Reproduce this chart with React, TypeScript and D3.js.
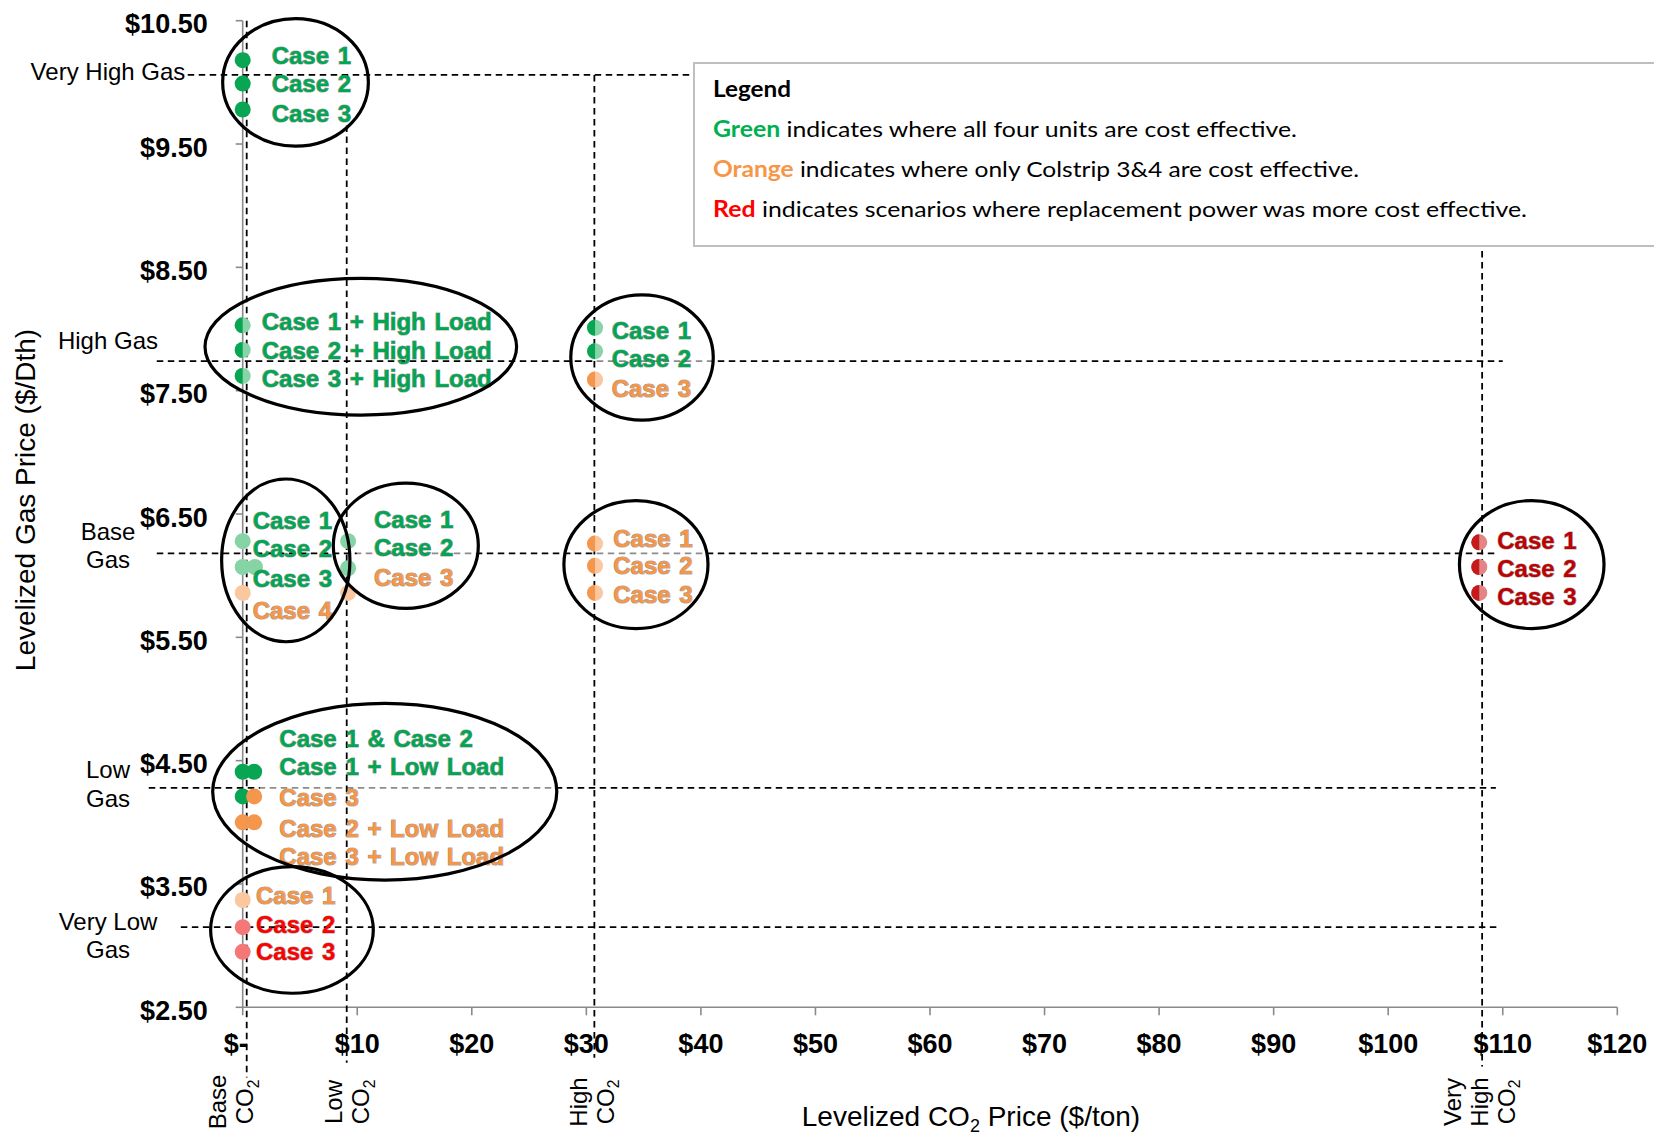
import React from 'react';
import * as d3 from 'd3';

const WIDTH = 1654;
const HEIGHT = 1135;

// ---------- data ----------
const yTicks = [2.5, 3.5, 4.5, 5.5, 6.5, 7.5, 8.5, 9.5, 10.5];
const xTicks = [0, 10, 20, 30, 40, 50, 60, 70, 80, 90, 100, 110, 120];

// gas price scenarios (horizontal dashed lines), values in $/Dth, extents in $/ton
const gasScenarios = [
  { label: ['Very High Gas'], gas: 10.06, from: -4.8, to: 108.2, labelGas: 10.02 },
  { label: ['High Gas'], gas: 7.74, from: -7.5, to: 110.0, labelGas: 7.835 },
  { label: ['Base', 'Gas'], gas: 6.18, from: -7.5, to: 109.5, labelGas: 6.29 },
  { label: ['Low', 'Gas'], gas: 4.28, from: -8.2, to: 109.4, labelGas: 4.357 },
  { label: ['Very Low', 'Gas'], gas: 3.15, from: -5.4, to: 109.6, labelGas: 3.127 },
];

// CO2 price scenarios (vertical dashed lines)
const co2Scenarios = [
  { label: ['Base', 'CO|2'], co2: 0.35, topGas: 10.5, bottomGas: 1.93, labelCo2: -0.24 },
  { label: ['Low', 'CO|2'], co2: 9.08, topGas: 9.65, bottomGas: 2.05, labelCo2: 9.89 },
  { label: ['High', 'CO|2'], co2: 30.7, topGas: 10.06, bottomGas: 2.09, labelCo2: 31.23 },
  { label: ['Very', 'High', 'CO|2'], co2: 108.2, topGas: 10.06, bottomGas: 2.02, labelCo2: 108.7 },
];

// scenario results: CO2 price ($/ton), gas price ($/Dth), tone, half = lighter right half
const points = [
  { co2: 0, gas: 10.18, tone: 'green', half: false },
  { co2: 0, gas: 9.99, tone: 'green', half: false },
  { co2: 0, gas: 9.78, tone: 'green', half: false },
  { co2: 0, gas: 8.03, tone: 'green', half: true },
  { co2: 0, gas: 7.83, tone: 'green', half: true },
  { co2: 0, gas: 7.62, tone: 'green', half: true },
  { co2: 30.76, gas: 8.01, tone: 'green', half: true },
  { co2: 30.76, gas: 7.82, tone: 'green', half: true },
  { co2: 30.76, gas: 7.59, tone: 'orange', half: true },
  { co2: 0, gas: 6.28, tone: 'lightGreen', half: false },
  { co2: 0, gas: 6.07, tone: 'lightGreen', half: false },
  { co2: 1.07, gas: 6.07, tone: 'lightGreen', half: false },
  { co2: 0, gas: 5.86, tone: 'paleOrange', half: false },
  { co2: 9.2, gas: 6.28, tone: 'lightGreen', half: false },
  { co2: 9.2, gas: 6.06, tone: 'lightGreen', half: false },
  { co2: 9.2, gas: 5.86, tone: 'paleOrange', half: false },
  { co2: 30.76, gas: 6.26, tone: 'orange', half: true },
  { co2: 30.76, gas: 6.08, tone: 'orange', half: true },
  { co2: 30.76, gas: 5.86, tone: 'orange', half: true },
  { co2: 0, gas: 4.41, tone: 'green', half: false },
  { co2: 1.0, gas: 4.41, tone: 'green', half: false },
  { co2: 0, gas: 4.21, tone: 'green', half: false },
  { co2: 1.0, gas: 4.21, tone: 'orange', half: false },
  { co2: 0, gas: 4.0, tone: 'orange', half: false },
  { co2: 1.0, gas: 4.0, tone: 'orange', half: false },
  { co2: 0, gas: 3.37, tone: 'paleOrange', half: false },
  { co2: 0, gas: 3.15, tone: 'pink', half: false },
  { co2: 0, gas: 2.95, tone: 'pink', half: false },
  { co2: 107.95, gas: 6.27, tone: 'darkRed', half: true },
  { co2: 107.95, gas: 6.07, tone: 'darkRed', half: true },
  { co2: 107.95, gas: 5.86, tone: 'darkRed', half: true },
];

// case labels (anchor = text start / baseline, in data units)
const caseLabels = [
  { co2: 2.53, gas: 10.15, text: 'Case 1', tone: 'green' },
  { co2: 2.53, gas: 9.92, text: 'Case 2', tone: 'green' },
  { co2: 2.53, gas: 9.68, text: 'Case 3', tone: 'green' },
  { co2: 1.66, gas: 7.99, text: 'Case 1 + High Load', tone: 'green' },
  { co2: 1.66, gas: 7.76, text: 'Case 2 + High Load', tone: 'green' },
  { co2: 1.66, gas: 7.53, text: 'Case 3 + High Load', tone: 'green' },
  { co2: 32.21, gas: 7.92, text: 'Case 1', tone: 'green' },
  { co2: 32.21, gas: 7.69, text: 'Case 2', tone: 'green' },
  { co2: 32.21, gas: 7.45, text: 'Case 3', tone: 'orange' },
  { co2: 0.87, gas: 6.38, text: 'Case 1', tone: 'green' },
  { co2: 0.87, gas: 6.15, text: 'Case 2', tone: 'green' },
  { co2: 0.87, gas: 5.91, text: 'Case 3', tone: 'green' },
  { co2: 0.87, gas: 5.65, text: 'Case 4', tone: 'orange' },
  { co2: 11.46, gas: 6.39, text: 'Case 1', tone: 'green' },
  { co2: 11.46, gas: 6.16, text: 'Case 2', tone: 'green' },
  { co2: 11.46, gas: 5.92, text: 'Case 3', tone: 'orange' },
  { co2: 32.35, gas: 6.23, text: 'Case 1', tone: 'orange' },
  { co2: 32.35, gas: 6.01, text: 'Case 2', tone: 'orange' },
  { co2: 32.35, gas: 5.78, text: 'Case 3', tone: 'orange' },
  { co2: 3.2, gas: 4.61, text: 'Case 1 & Case 2', tone: 'green' },
  { co2: 3.2, gas: 4.38, text: 'Case 1 + Low Load', tone: 'green' },
  { co2: 3.2, gas: 4.13, text: 'Case 3', tone: 'orange' },
  { co2: 3.2, gas: 3.88, text: 'Case 2 + Low Load', tone: 'orange' },
  { co2: 3.2, gas: 3.65, text: 'Case 3 + Low Load', tone: 'orange' },
  { co2: 1.16, gas: 3.34, text: 'Case 1', tone: 'orange' },
  { co2: 1.16, gas: 3.1, text: 'Case 2', tone: 'red' },
  { co2: 1.16, gas: 2.88, text: 'Case 3', tone: 'red' },
  { co2: 109.52, gas: 6.22, text: 'Case 1', tone: 'darkRed' },
  { co2: 109.52, gas: 5.99, text: 'Case 2', tone: 'darkRed' },
  { co2: 109.52, gas: 5.76, text: 'Case 3', tone: 'darkRed' },
];

// grouping ellipses (centre and radii in data units)
const ellipses = [
  { co2: 4.61, gas: 10.0, rCo2: 6.36, rGas: 0.517 },
  { co2: 10.31, gas: 7.856, rCo2: 13.6, rGas: 0.554 },
  { co2: 34.86, gas: 7.769, rCo2: 6.22, rGas: 0.507 },
  { co2: 34.33, gas: 6.09, rCo2: 6.29, rGas: 0.519 },
  { co2: 3.76, gas: 6.124, rCo2: 5.6, rGas: 0.66 },
  { co2: 14.24, gas: 6.243, rCo2: 6.33, rGas: 0.508 },
  { co2: 112.53, gas: 6.09, rCo2: 6.31, rGas: 0.519 },
  { co2: 12.4, gas: 4.248, rCo2: 15.02, rGas: 0.716 },
  { co2: 4.3, gas: 3.127, rCo2: 7.1, rGas: 0.513 },
];

// ellipses whose inside (right of a CO2 value) greys the gas line
const veils = [
  { ellipse: 2, from: 30.9 },
  { ellipse: 3, from: 30.9 },
  { ellipse: 5, from: 9.95 },
  { ellipse: 7, from: 1.5 },
];

const legendLines = [
  { key: 'Green', rest: ' indicates where all four units are cost effective.', tone: 'legendGreen' },
  { key: 'Orange', rest: ' indicates where only Colstrip 3&4 are cost effective.', tone: 'orange' },
  { key: 'Red', rest: ' indicates scenarios where replacement power was more cost effective.', tone: 'red' },
];

// ---------- styles ----------
const COLORS: Record<string, { dark: string; light: string; text: string }> = {
  green: { dark: '#08a552', light: '#86d4a8', text: '#00a651' },
  lightGreen: { dark: '#86d3a6', light: '#86d3a6', text: '#00a651' },
  orange: { dark: '#f4964c', light: '#fac7a0', text: '#f79646' },
  paleOrange: { dark: '#fac79e', light: '#fac79e', text: '#f79646' },
  pink: { dark: '#f47878', light: '#f47878', text: '#ff0000' },
  red: { dark: '#ff0000', light: '#ff0000', text: '#ff0000' },
  darkRed: { dark: '#c41a1a', light: '#e38585', text: '#c00000' },
  legendGreen: { dark: '#00b050', light: '#00b050', text: '#00b050' },
};

const FONT = '"Liberation Sans", Arial, sans-serif';
const LEGEND_FONT = 'Lato, "Open Sans", sans-serif';

const x = d3.scaleLinear().domain([0, 120]).range([242.7, 1617.3]);
const y = d3.scaleLinear().domain([2.5, 10.5]).range([1007.3, 20.7]);

const CO2 = ({ s }: { s: string }) => {
  const [a, b] = s.split('|');
  if (b === undefined) return <>{a}</>;
  return (
    <>
      {a}
      <tspan fontSize="0.65em" dy="0.35em">{b}</tspan>
    </>
  );
};

export default function App() {
  const axisColor = '#8a8a8a';
  const dash = '6.5 4.5';
  const r = 8;

  return (
    <svg
      width={WIDTH}
      height={HEIGHT}
      viewBox={`0 0 ${WIDTH} ${HEIGHT}`}
      style={{ position: 'absolute', left: 0, top: 0, background: '#fff' }}
      fontFamily={FONT}
    >
      <defs>
        {veils.map((v, i) => {
          const e = ellipses[v.ellipse];
          return (
            <clipPath id={`veil-${i}`} key={i}>
              <ellipse
                cx={x(e.co2)}
                cy={y(e.gas)}
                rx={x(e.rCo2) - x(0)}
                ry={y(2.5) - y(2.5 + e.rGas)}
              />
            </clipPath>
          );
        })}
      </defs>

      {/* axes */}
      <line x1={x(0)} x2={x(0)} y1={y(10.5)} y2={y(2.5)} stroke={axisColor} strokeWidth={1.6} />
      {yTicks.map((t) => (
        <g key={`yt${t}`}>
          <line x1={x(0) - 7} x2={x(0)} y1={y(t)} y2={y(t)} stroke={axisColor} strokeWidth={1.6} />
          <text
            x={x(0) - 35}
            y={y(t) + 12.5}
            textAnchor="end"
            fontSize={27}
            fontWeight="bold"
            fill="#000"
          >
            {`$${d3.format('.2f')(t)}`}
          </text>
        </g>
      ))}
      <line x1={x(0)} x2={x(120)} y1={y(2.5)} y2={y(2.5)} stroke={axisColor} strokeWidth={1.6} />
      {xTicks.map((t) => (
        <g key={`xt${t}`}>
          <line x1={x(t)} x2={x(t)} y1={y(2.5)} y2={y(2.5) + 8} stroke={axisColor} strokeWidth={1.6} />
          <text
            x={t === 0 ? x(t) + 5 : x(t)}
            y={y(2.5) + 46}
            textAnchor={t === 0 ? 'end' : 'middle'}
            fontSize={27}
            fontWeight="bold"
            fill="#000"
          >
            {t === 0 ? '$-' : `$${t}`}
          </text>
        </g>
      ))}

      {/* axis titles */}
      <text
        transform={`translate(35, 500) rotate(-90)`}
        textAnchor="middle"
        fontSize={28}
        fill="#000"
      >
        Levelized Gas Price ($/Dth)
      </text>
      <text x={971} y={1126} textAnchor="middle" fontSize={28} fill="#000">
        Levelized CO<tspan fontSize={18} dy={6}>2</tspan>
        <tspan dy={-6}> Price ($/ton)</tspan>
      </text>

      {/* horizontal gas-scenario lines */}
      {gasScenarios.map((g) => (
        <line
          key={`gl${g.gas}`}
          x1={x(g.from)}
          x2={x(g.to)}
          y1={y(g.gas)}
          y2={y(g.gas)}
          stroke="#000"
          strokeWidth={1.8}
          strokeDasharray={dash}
        />
      ))}

      {/* veils inside some ellipses */}
      {veils.map((v, i) => {
        const e = ellipses[v.ellipse];
        const right = x(e.co2 + e.rCo2);
        return (
          <rect
            key={`veil${i}`}
            clipPath={`url(#veil-${i})`}
            x={x(v.from)}
            y={y(e.gas + e.rGas)}
            width={right - x(v.from)}
            height={y(e.gas - e.rGas) - y(e.gas + e.rGas)}
            fill="#fff"
            opacity={0.55}
          />
        );
      })}

      {/* vertical CO2-scenario lines */}
      {co2Scenarios.map((c) => (
        <line
          key={`cl${c.co2}`}
          x1={x(c.co2)}
          x2={x(c.co2)}
          y1={y(c.topGas)}
          y2={y(c.bottomGas)}
          stroke="#000"
          strokeWidth={1.8}
          strokeDasharray={dash}
        />
      ))}

      {/* gas scenario labels */}
      {gasScenarios.map((g) => (
        <text key={`glab${g.gas}`} textAnchor="middle" fontSize={24} fill="#000">
          {g.label.map((l, i) => (
            <tspan key={i} x={x(-11.76)} y={y(g.labelGas) + i * 28.5}>
              {l}
            </tspan>
          ))}
        </text>
      ))}

      {/* CO2 scenario labels (rotated) */}
      {co2Scenarios.map((c) =>
        c.label.map((l, i) => {
          const bx = x(c.labelCo2) + (i - (c.label.length - 1) / 2) * 27;
          return (
            <text
              key={`clab${c.co2}-${i}`}
              transform={`translate(${bx}, 1102) rotate(-90)`}
              textAnchor="middle"
              fontSize={24}
              fill="#000"
            >
              <CO2 s={l} />
            </text>
          );
        })
      )}

      {/* points */}
      {points.map((p, i) => {
        const cx = x(p.co2);
        const cy = y(p.gas);
        const c = COLORS[p.tone];
        return (
          <g key={`pt${i}`}>
            <circle cx={cx} cy={cy} r={r} fill={p.half ? c.light : c.dark} />
            {p.half && (
              <path d={`M${cx},${cy - r} A${r},${r} 0 0 0 ${cx},${cy + r} Z`} fill={c.dark} />
            )}
          </g>
        );
      })}

      {/* case labels */}
      {caseLabels.map((l, i) => (
        <text
          key={`lab${i}`}
          x={x(l.co2)}
          y={y(l.gas)}
          fontSize={24}
          fontWeight="bold"
          wordSpacing={2}
          fill={COLORS[l.tone].text}
          stroke="rgba(0,0,0,0.4)"
          strokeWidth={1.2}
          style={{ paintOrder: 'stroke' }}
        >
          {l.text}
        </text>
      ))}

      {/* ellipses */}
      {ellipses.map((e, i) => (
        <ellipse
          key={`el${i}`}
          cx={x(e.co2)}
          cy={y(e.gas)}
          rx={x(e.rCo2) - x(0)}
          ry={y(2.5) - y(2.5 + e.rGas)}
          fill="none"
          stroke="#000"
          strokeWidth={3.2}
        />
      ))}

      {/* legend */}
      <g fontFamily={LEGEND_FONT}>
        <rect x={694} y={63} width={990} height={183} fill="#fff" stroke="#bfbfbf" strokeWidth={2} />
        <text x={713} y={97} fontSize={22} fontWeight="bold" fill="#000" textLength={78} lengthAdjust="spacingAndGlyphs">
          Legend
        </text>
        {legendLines.map((l, i) => (
          <text
            key={`leg${i}`}
            x={713}
            y={137 + i * 40}
            fontSize={22}
            fill="#000"
            textLength={[584, 646, 814][i]}
            lengthAdjust="spacingAndGlyphs"
          >
            <tspan fill={COLORS[l.tone].text} fontWeight="bold">
              {l.key}
            </tspan>
            {l.rest}
          </text>
        ))}
      </g>
    </svg>
  );
}
